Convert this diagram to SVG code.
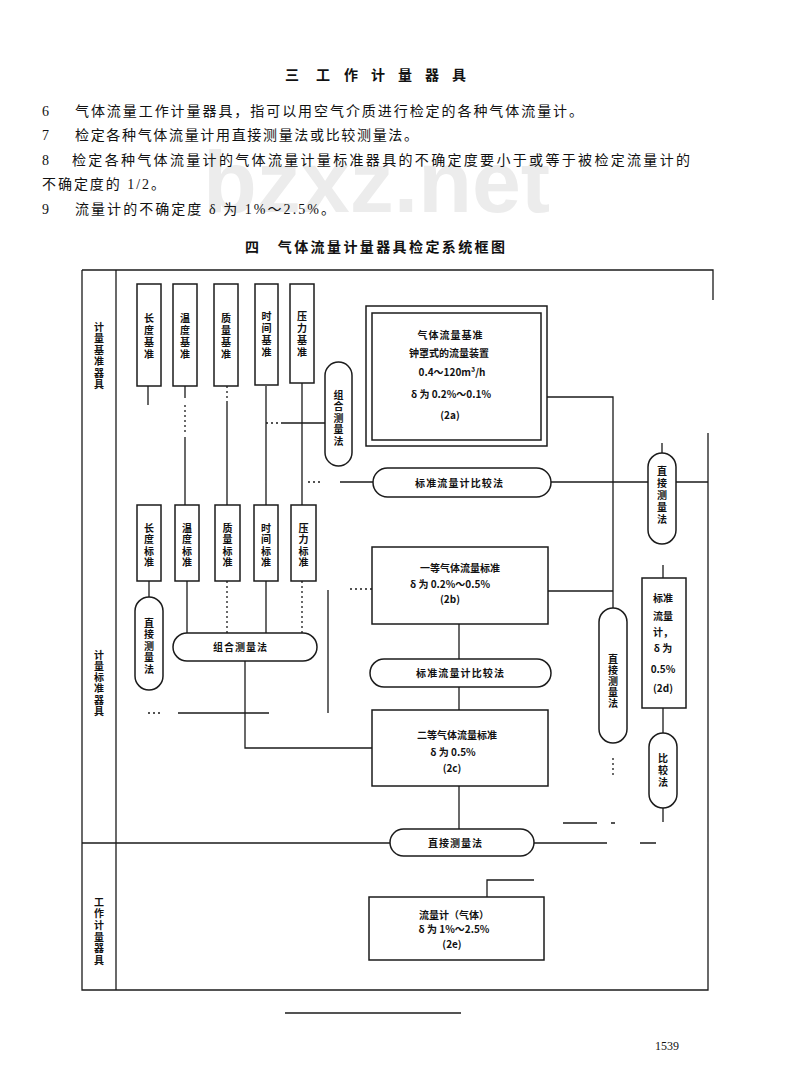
<svg xmlns="http://www.w3.org/2000/svg" width="800" height="1071" viewBox="0 0 800 1071">
<style>
.ln{stroke:#1b1b1b;stroke-width:1.3;fill:none}
.dt{stroke:#1b1b1b;stroke-width:1.3;fill:none;stroke-dasharray:2 3}
.bx{fill:#fff;stroke:#1b1b1b;stroke-width:1.5}
.t{font-family:"Noto Sans CJK SC","Noto Sans",sans-serif;font-size:10px;font-weight:bold;fill:#111;text-anchor:middle}
.v{font-family:"Noto Sans CJK SC",sans-serif;font-size:10px;font-weight:bold;fill:#111;text-anchor:middle;writing-mode:vertical-rl;text-orientation:upright}
.b{font-family:"Liberation Serif","Noto Sans CJK SC",serif;font-size:14px;fill:#111}
.h{font-family:"Noto Sans CJK SC",sans-serif;font-size:14px;font-weight:bold;fill:#111}
.wm{font-family:"Liberation Sans",sans-serif;font-weight:bold;font-size:88px;fill:#ececec}
</style>
<rect width="800" height="1071" fill="#fff"/>
<text class="wm" x="203" y="212">bzxz.net</text>
<g id="header">
<text class="h" x="285 316 344 371 398 425 452" y="80">三工作计量器具</text>
<text class="b" x="42" y="116">6</text>
<text class="b" x="75" y="116" textLength="508" lengthAdjust="spacing">气体流量工作计量器具，指可以用空气介质进行检定的各种气体流量计。</text>
<text class="b" x="42" y="140">7</text>
<text class="b" x="75" y="140" textLength="343" lengthAdjust="spacing">检定各种气体流量计用直接测量法或比较测量法。</text>
<text class="b" x="42" y="165">8</text>
<text class="b" x="72" y="165" textLength="618" lengthAdjust="spacing">检定各种气体流量计的气体流量计量标准器具的不确定度要小于或等于被检定流量计的</text>
<text class="b" x="42" y="189" textLength="123" lengthAdjust="spacing">不确定度的 1/2。</text>
<text class="b" x="42" y="214">9</text>
<text class="b" x="75" y="214" textLength="260" lengthAdjust="spacing">流量计的不确定度 δ 为 1%～2.5%。</text>
<text class="h" x="245" y="252" textLength="260" lengthAdjust="spacing">四　气体流量计量器具检定系统框图</text>
</g>
<g id="frame">
<path class="ln" d="M82 270H713V300M82 270V990H708V433M116 270V990M82 843H390M534 843H607M640 843H656"/>
</g>
<g id="section-labels">
<text class="v" x="99" y="356.5" letter-spacing="1.5">计量基准器具</text>
<text class="v" x="99" y="683.6" letter-spacing="1.2">计量标准器具</text>
<text class="v" x="99" y="931.8" letter-spacing="1.6">工作计量器具</text>
</g>
<g id="connectors">
<path class="ln" d="M148 386V405M185 386V398M185 437V505M227 402V505M266 386V505M302 383V505M283 423H326M340 482H373"/>
<path class="dt" d="M185 405V435M227 386V402M266 423H283M308 482H322"/>
<path class="ln" d="M149 581V597M187 581V633M266 581V633M245 661V748H372M178 713H269M328 590V713"/>
<path class="dt" d="M227 581V633M302 581V633M148 713H162M350 589H372"/>
<path class="ln" d="M459 624V659M459 687V710M459 786V829M487 897V880H534"/>
<path class="ln" d="M547 397H613V608M548 591H613M551 482H648M676 482H708M662 443V453M663 565V578M663 708V733M663 808V822M563 823H597M611 823H615"/>
<path class="dt" d="M613 758V778"/>
</g>
<g id="n-changdu-jz"><rect class="bx" x="137" y="284" width="24" height="102"/><text class="v" x="149" y="337" letter-spacing="2">长度基准</text></g>
<g id="n-wendu-jz"><rect class="bx" x="173" y="284" width="24" height="102"/><text class="v" x="185" y="337" letter-spacing="2">温度基准</text></g>
<g id="n-zhiliang-jz"><rect class="bx" x="214" y="284" width="24" height="102"/><text class="v" x="226" y="337" letter-spacing="2">质量基准</text></g>
<g id="n-shijian-jz"><rect class="bx" x="255" y="284" width="23" height="101"/><text class="v" x="266.5" y="335" letter-spacing="2">时间基准</text></g>
<g id="n-yali-jz"><rect class="bx" x="290" y="284" width="24" height="99"/><text class="v" x="302" y="335" letter-spacing="2">压力基准</text></g>
<g id="n-zuhe-v"><rect class="bx" x="325" y="362" width="27" height="104" rx="13.5"/><text class="v" x="338.5" y="418.75" letter-spacing="1.5">组合测量法</text></g>
<g id="n-jizhun">
<rect class="bx" x="366" y="306" width="181" height="140"/>
<rect class="bx" x="372" y="313" width="169" height="127"/>
<text class="t" x="450" y="339" textLength="65" lengthAdjust="spacing">气体流量基准</text>
<text class="t" x="449" y="357">钟罩式的流量装置</text>
<text class="t" x="452" y="376">0.4～120m³/h</text>
<text class="t" x="451" y="398">δ 为 0.2%～0.1%</text>
<text class="t" x="450" y="419">(2a)</text>
</g>
<g id="n-bijiao-1"><rect class="bx" x="373" y="468" width="178" height="29" rx="14.5"/><text class="t" x="459" y="486.5" textLength="88" lengthAdjust="spacing">标准流量计比较法</text></g>
<g id="n-zhijie-r1"><rect class="bx" x="648" y="453" width="28" height="91" rx="14"/><text class="v" x="662" y="496" letter-spacing="2">直接测量法</text></g>
<g id="n-changdu-bz"><rect class="bx" x="137" y="505" width="24" height="76"/><text class="v" x="149" y="546" letter-spacing="1.5">长度标准</text></g>
<g id="n-wendu-bz"><rect class="bx" x="175" y="505" width="24" height="76"/><text class="v" x="187" y="546" letter-spacing="1.5">温度标准</text></g>
<g id="n-zhiliang-bz"><rect class="bx" x="215" y="505" width="25" height="76"/><text class="v" x="227.5" y="546" letter-spacing="1.5">质量标准</text></g>
<g id="n-shijian-bz"><rect class="bx" x="254" y="505" width="24" height="76"/><text class="v" x="266" y="546" letter-spacing="1.5">时间标准</text></g>
<g id="n-yali-bz"><rect class="bx" x="291" y="505" width="25" height="76"/><text class="v" x="303.5" y="546" letter-spacing="1.5">压力标准</text></g>
<g id="n-zhijie-l"><rect class="bx" x="135" y="597" width="28" height="93" rx="14"/><text class="v" x="149" y="646.75" letter-spacing="1.5">直接测量法</text></g>
<g id="n-zuhe-h"><rect class="bx" x="173" y="633" width="144" height="28" rx="14"/><text class="t" x="240" y="651" textLength="54" lengthAdjust="spacing">组合测量法</text></g>
<g id="n-yideng">
<rect class="bx" x="372" y="547" width="176" height="77"/>
<text class="t" x="460" y="572">一等气体流量标准</text>
<text class="t" x="450" y="587.5">δ 为 0.2%～0.5%</text>
<text class="t" x="450" y="602.5">(2b)</text>
</g>
<g id="n-bijiao-2"><rect class="bx" x="370" y="659" width="181" height="28" rx="14"/><text class="t" x="460" y="677" textLength="88" lengthAdjust="spacing">标准流量计比较法</text></g>
<g id="n-erdeng">
<rect class="bx" x="372" y="710" width="176" height="76"/>
<text class="t" x="457" y="739">二等气体流量标准</text>
<text class="t" x="453" y="756">δ 为 0.5%</text>
<text class="t" x="452" y="772">(2c)</text>
</g>
<g id="n-zhijie-r2"><rect class="bx" x="599" y="608" width="28" height="135" rx="14"/><text class="v" x="613" y="681.5" letter-spacing="1">直接测量法</text></g>
<g id="n-biaozhun-r">
<rect class="bx" x="642" y="578" width="44" height="130"/>
<text class="t" x="663" y="602">标准</text>
<text class="t" x="663" y="620">流量</text>
<text class="t" x="663" y="636">计，</text>
<text class="t" x="663" y="652">δ 为</text>
<text class="t" x="663" y="673">0.5%</text>
<text class="t" x="663" y="692">(2d)</text>
</g>
<g id="n-bijiao-r"><rect class="bx" x="649" y="733" width="28" height="75" rx="14"/><text class="v" x="663" y="771" letter-spacing="2">比较法</text></g>
<g id="n-zhijie-b"><rect class="bx" x="390" y="829" width="144" height="27" rx="13.5"/><text class="t" x="455" y="847" textLength="54" lengthAdjust="spacing">直接测量法</text></g>
<g id="n-liuliangji">
<rect class="bx" x="369" y="897" width="175" height="63"/>
<text class="t" x="454" y="918.5">流量计（气体）</text>
<text class="t" x="454" y="933">δ 为 1%～2.5%</text>
<text class="t" x="452" y="948">(2e)</text>
</g>
<g id="footer">
<path d="M285 1013H461" stroke="#1b1b1b" stroke-width="1.6"/>
<text class="b" x="655" y="1050" style="font-size:12px">1539</text>
</g>
</svg>
